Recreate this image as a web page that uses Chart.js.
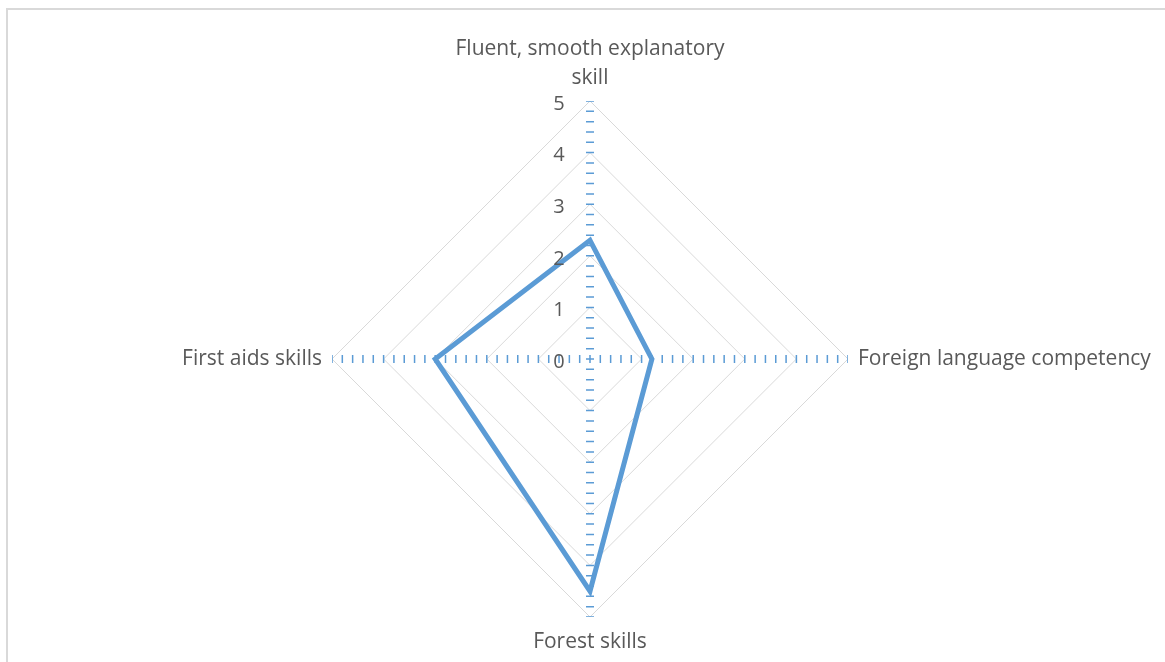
<!DOCTYPE html>
<html>
<head>
<meta charset="utf-8">
<script src="https://cdn.jsdelivr.net/npm/chart.js@4.4.1/dist/chart.umd.min.js"></script>
<style>
  html, body { margin: 0; padding: 0; background: #ffffff; overflow: hidden; }
  #frame { position: absolute; left: 6px; top: 8px; width: 1250px; height: 760px; border: 2px solid #d9d9d9; box-sizing: border-box; }
  #c { position: absolute; left: 0; top: 0; }
</style>
</head>
<body>
<div id="frame"></div>
<canvas id="c" width="1165" height="662"></canvas>
<script>
// ---- data ----
const categories = [['Fluent, smooth explanatory', 'skill'], 'Foreign language competency', 'Forest skills', 'First aids skills'];
const scores = [2.3, 1.2, 4.5, 3.0];
const tickValues = [0, 1, 2, 3, 4, 5];

const TEXT_COLOR = '#595959';
const LABEL_FONT = '21px "Open Sans"';
const TICK_FONT = '20px "Open Sans"';

const labelPlugin = {
  id: 'excelLabels',
  afterDraw(chart) {
    const r = chart.scales.r;
    const ctx = chart.ctx;
    ctx.save();
    ctx.fillStyle = TEXT_COLOR;
    // radial tick labels, left of the vertical axis
    ctx.font = TICK_FONT;
    ctx.textAlign = 'center';
    ctx.textBaseline = 'middle';
    tickValues.forEach(v => {
      const y = r.yCenter - r.getDistanceFromCenterForValue(v);
      ctx.fillText(String(v), r.xCenter - 31, y + 3);
    });
    // point labels
    ctx.font = LABEL_FONT;
    const lh = 28.5;
    const pads = [9, 10, 11, 10];
    categories.forEach((lab, i) => {
      const lines = Array.isArray(lab) ? lab : [lab];
      const p = r.getPointPosition(i, r.drawingArea + pads[i]);
      const h = lines.length * lh;
      let top, align, x = p.x;
      if (i === 0) { top = p.y - h; align = 'center'; }
      else if (i === 2) { top = p.y; align = 'center'; }
      else if (i === 1) { top = p.y - h / 2; align = 'left'; }
      else { top = p.y - h / 2; align = 'right'; }
      ctx.textAlign = align;
      ctx.textBaseline = 'middle';
      lines.forEach((ln, k) => ctx.fillText(ln, x, top + lh / 2 + k * lh));
    });
    ctx.restore();
  }
};

new Chart(document.getElementById('c'), {
  type: 'radar',
  data: {
    labels: categories,
    datasets: [{
      data: scores,
      borderColor: '#5B9BD5',
      borderWidth: 5,
      fill: false,
      pointRadius: 0,
      pointHoverRadius: 0,
      tension: 0,
      borderJoinStyle: 'miter'
    }]
  },
  options: {
    responsive: false,
    animation: false,
    layout: { padding: { left: 332, right: 317, top: 101, bottom: 45 } },
    plugins: { legend: { display: false }, tooltip: { enabled: false } },
    scales: {
      r: {
        min: 0,
        max: 5,
        ticks: { stepSize: 1, display: false },
        grid: { color: '#d9d9d9', lineWidth: 1 },
        angleLines: { color: '#5B9BD5', lineWidth: 8, borderDash: [1.5, 8.82], borderDashOffset: 0.75 },
        pointLabels: { display: false }
      }
    }
  },
  plugins: [labelPlugin]
});
</script>
</body>
</html>
